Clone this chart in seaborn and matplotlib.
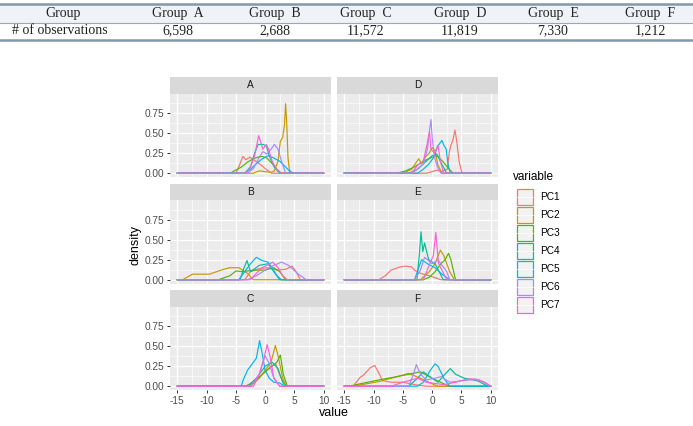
import numpy as np
import pandas as pd
import matplotlib.pyplot as plt
import seaborn as sns
from matplotlib.patches import Rectangle

# table on top
groups = ["A", "B", "C", "D", "E", "F"]
n_obs = ["6,598", "2,688", "11,572", "11,819", "7,330", "1,212"]

pcs = ["PC1", "PC2", "PC3", "PC4", "PC5", "PC6", "PC7"]
colors = ["#F8766D", "#C49A00", "#53B400", "#00C094", "#00B6EB", "#A58AFF", "#FB61D7"]

# density traces: (value, density)
A = {
    "PC1": [(-5.0, 0), (-4.5, 0.08), (-3.8, 0.21), (-3.3, 0.17), (-2.6, 0.2), (-2.0, 0.17), (-1.0, 0.12), (0.0, 0.06), (1.1, 0)],
    "PC2": [(-2.0, 0), (-1.0, 0.03), (0.0, 0.02), (1.0, 0.01), (1.6, 0.03), (2.2, 0.15), (2.6, 0.4), (3.0, 0.45), (3.3, 0.6), (3.5, 0.87), (3.7, 0.6), (3.9, 0.2), (4.2, 0)],
    "PC3": [(-6.0, 0), (-5.0, 0.04), (-4.0, 0.08), (-3.0, 0.14), (-2.0, 0.18), (-1.3, 0.2), (-0.5, 0.21), (0.3, 0.19), (1.2, 0.12), (2.0, 0.05), (2.8, 0)],
    "PC4": [(-3.5, 0), (-2.5, 0.08), (-1.8, 0.25), (-1.2, 0.36), (-0.3, 0.36), (0.2, 0.34), (0.8, 0.2), (1.6, 0.07), (2.5, 0)],
    "PC5": [(-3.5, 0), (-2.5, 0.05), (-1.5, 0.12), (-0.5, 0.18), (0.5, 0.22), (1.5, 0.19), (2.5, 0.15), (3.2, 0.1), (4.0, 0.04), (4.8, 0)],
    "PC6": [(-3.0, 0), (-2.0, 0.06), (-1.0, 0.2), (-0.4, 0.27), (0.3, 0.24), (1.0, 0.3), (1.6, 0.36), (2.2, 0.3), (2.8, 0.15), (3.5, 0)],
    "PC7": [(-3.3, 0), (-2.5, 0.08), (-1.8, 0.22), (-1.1, 0.47), (-0.8, 0.4), (-0.4, 0.3), (0.2, 0.36), (0.6, 0.3), (1.2, 0.15), (2.0, 0.04), (2.8, 0)],
}
B = {
    "PC1": [(-3.5, 0), (-2.5, 0.1), (-1.0, 0.14), (0.5, 0.15), (2.0, 0.12), (3.5, 0.13), (4.6, 0.17), (5.3, 0.1), (6.0, 0)],
    "PC2": [(-14.1, 0), (-12.4, 0.07), (-9.5, 0.07), (-7.5, 0.12), (-6.1, 0.15), (-4.5, 0.15), (-3.0, 0.08), (-2.0, 0)],
    "PC3": [(-8.0, 0), (-6.0, 0.05), (-5.0, 0.11), (-3.8, 0.1), (-2.0, 0.12), (0.0, 0.12), (1.5, 0.15), (2.5, 0.1), (3.5, 0)],
    "PC4": [(-4.3, 0), (-3.6, 0.15), (-3.1, 0.24), (-2.5, 0.1), (-1.0, 0.18), (0.5, 0.2), (1.5, 0.1), (2.5, 0)],
    "PC5": [(-4.5, 0), (-3.5, 0.1), (-2.5, 0.2), (-1.5, 0.28), (-0.5, 0.24), (0.5, 0.22), (1.2, 0.15), (2.0, 0.05), (2.8, 0)],
    "PC6": [(-3.0, 0), (-1.5, 0.05), (0.0, 0.12), (1.5, 0.18), (2.8, 0.22), (4.0, 0.18), (5.5, 0.08), (7.0, 0)],
    "PC7": [(-2.5, 0), (-1.5, 0.08), (-0.5, 0.15), (0.8, 0.2), (1.3, 0.22), (2.2, 0.15), (3.0, 0.05), (3.8, 0)],
}
C = {
    "PC1": [(-3.5, 0), (-2.0, 0.05), (-0.5, 0.15), (1.0, 0.25), (1.8, 0.28), (2.6, 0.12), (3.5, 0)],
    "PC2": [(-2.5, 0), (-1.0, 0.1), (0.0, 0.2), (1.0, 0.3), (1.75, 0.51), (2.3, 0.35), (3.0, 0.1), (3.6, 0)],
    "PC3": [(-3.0, 0), (-1.5, 0.08), (0.0, 0.18), (1.2, 0.25), (2.0, 0.3), (2.6, 0.39), (3.1, 0.15), (3.8, 0)],
    "PC4": [(-3.0, 0), (-1.5, 0.1), (0.0, 0.25), (1.2, 0.3), (2.2, 0.22), (3.0, 0.05), (3.5, 0)],
    "PC5": [(-4.1, 0), (-3.8, 0.07), (-3.0, 0.2), (-2.0, 0.3), (-1.5, 0.35), (-0.95, 0.57), (-0.6, 0.45), (0.0, 0.2), (0.7, 0.1), (1.5, 0.05), (2.5, 0.04), (3.3, 0)],
    "PC6": [(-2.5, 0), (-1.0, 0.15), (0.0, 0.38), (0.6, 0.3), (1.5, 0.1), (2.5, 0)],
    "PC7": [(-2.0, 0), (-1.0, 0.15), (-0.2, 0.35), (0.35, 0.52), (0.9, 0.35), (1.5, 0.1), (2.5, 0)],
}
D = {
    "PC1": [(-1.0, 0), (0.0, 0.02), (0.9, 0.04), (1.6, 0.02), (2.6, 0.05), (2.9, 0.25), (3.2, 0.35), (3.5, 0.4), (3.9, 0.54), (4.2, 0.4), (4.6, 0.15), (5.1, 0)],
    "PC2": [(-5.0, 0), (-3.5, 0.05), (-2.3, 0.18), (-1.8, 0.12), (-1.2, 0.2), (-0.5, 0.25), (0.0, 0.32), (0.5, 0.28), (1.0, 0.1), (1.7, 0)],
    "PC3": [(-6.0, 0), (-4.5, 0.03), (-3.0, 0.08), (-1.5, 0.15), (0.0, 0.2), (0.8, 0.22), (1.8, 0.15), (2.8, 0.06), (3.6, 0)],
    "PC4": [(-4.0, 0), (-2.5, 0.05), (-1.0, 0.15), (0.0, 0.22), (0.8, 0.24), (1.6, 0.12), (2.5, 0)],
    "PC5": [(-2.5, 0), (-1.5, 0.05), (-0.5, 0.12), (0.3, 0.2), (0.9, 0.33), (1.65, 0.41), (2.0, 0.35), (2.4, 0.3), (2.7, 0.12), (3.1, 0)],
    "PC6": [(-3.5, 0), (-2.5, 0.05), (-1.5, 0.12), (-0.8, 0.3), (-0.5, 0.5), (-0.2, 0.67), (0.0, 0.45), (0.4, 0.2), (0.9, 0.08), (1.5, 0)],
    "PC7": [(-3.5, 0), (-2.5, 0.1), (-1.5, 0.15), (-0.9, 0.35), (-0.45, 0.52), (-0.2, 0.3), (0.4, 0.25), (1.0, 0.35), (1.4, 0.15), (2.0, 0)],
}
E = {
    "PC1": [(-9.1, 0), (-8.0, 0.05), (-7.0, 0.12), (-5.5, 0.16), (-4.5, 0.17), (-3.5, 0.16), (-3.0, 0.12), (-2.0, 0.08), (-0.5, 0.05), (1.5, 0)],
    "PC2": [(-2.0, 0), (-0.5, 0.1), (0.5, 0.2), (1.4, 0.37), (2.0, 0.3), (3.0, 0.1), (3.8, 0)],
    "PC3": [(-1.5, 0), (-0.5, 0.03), (0.5, 0.1), (1.5, 0.2), (2.2, 0.25), (2.8, 0.33), (3.2, 0.25), (4.0, 0)],
    "PC4": [(-2.6, 0), (-2.2, 0.3), (-1.9, 0.6), (-1.6, 0.35), (-1.3, 0.46), (-0.6, 0.25), (0.5, 0.2), (1.2, 0.1), (1.9, 0)],
    "PC5": [(-3.0, 0), (-2.3, 0.15), (-1.8, 0.25), (-0.8, 0.2), (0.5, 0.15), (1.5, 0.08), (3.0, 0)],
    "PC6": [(-3.0, 0), (-2.0, 0.12), (-1.3, 0.28), (0.0, 0.2), (1.0, 0.25), (2.5, 0.1), (3.0, 0)],
    "PC7": [(-1.5, 0), (-0.4, 0.2), (0.2, 0.3), (0.63, 0.59), (0.9, 0.35), (1.1, 0.2), (2.5, 0)],
}
F = {
    "PC1": [(-13.4, 0.01), (-12.3, 0.11), (-11.7, 0.14), (-10.6, 0.23), (-9.8, 0.26), (-9.0, 0.15), (-8.5, 0.07), (-7.0, 0.05), (-5.0, 0.05), (-3.0, 0.02), (-1.0, 0)],
    "PC2": [(-14.0, 0), (-12.0, 0.02), (-9.0, 0.06), (-6.0, 0.12), (-4.0, 0.16), (-2.0, 0.1), (0.0, 0.03), (1.0, 0)],
    "PC3": [(-14.0, 0), (-13.0, 0.02), (-9.0, 0.08), (-6.0, 0.12), (-4.0, 0.15), (-2.0, 0.18), (0.0, 0.1), (2.0, 0.03), (3.0, 0)],
    "PC4": [(-4.0, 0), (-2.5, 0.1), (-1.5, 0.18), (0.0, 0.1), (1.0, 0.05), (2.2, 0.15), (3.1, 0.22), (4.0, 0.15), (5.5, 0.1), (7.0, 0.08), (8.0, 0.06), (9.5, 0)],
    "PC5": [(-2.5, 0), (-1.5, 0.05), (-0.3, 0.2), (0.5, 0.28), (1.0, 0.25), (2.0, 0.1), (3.0, 0)],
    "PC6": [(-4.0, 0), (-3.2, 0.15), (-2.7, 0.27), (-2.0, 0.15), (-1.0, 0.08), (0.5, 0.1), (1.5, 0.12), (3.0, 0.05), (6.5, 0.08), (8.0, 0.08), (10.0, 0)],
    "PC7": [(-7.0, 0), (-5.0, 0.05), (-2.5, 0.1), (-1.0, 0.05), (2.0, 0.02), (4.0, 0.05), (6.0, 0.09), (7.5, 0.09), (9.0, 0.05), (10.0, 0)],
}
curves = {"A": A, "B": B, "C": C, "D": D, "E": E, "F": F}

rows = []
for g, d in curves.items():
    for pc in pcs:
        pts = [(-15, 0)] + d[pc] + [(10, 0)]
        for v, dens in pts:
            rows.append((g, pc, v, dens))
df = pd.DataFrame(rows, columns=["group", "variable", "value", "density"])

W, H = 693, 426
fig = plt.figure(figsize=(W / 100, H / 100), dpi=100)
plt.rcParams["font.family"] = ["Liberation Sans", "DejaVu Sans"]

# overlay in pixel coords for table / legend / titles
ov = fig.add_axes([0, 0, 1, 1])
ov.set_xlim(0, W)
ov.set_ylim(H, 0)
ov.axis("off")

# table
ov.add_patch(Rectangle((0, 4), W, 19, color="#EFF2F7", lw=0))
ov.plot([0, W], [3.5, 3.5], color="#8497AD", lw=1.8)
ov.plot([0, W], [22.5, 22.5], color="#9AA8B8", lw=0.8)
ov.plot([0, W], [40, 40], color="#8497AD", lw=1.8)
col_x = [178, 275, 366, 460, 553, 650]
tfont = dict(family="Liberation Serif", fontsize=10, color="#222222", ha="center", va="center")
ov.text(63, 13.5, "Group", **tfont)
ov.text(60, 31, "# of observations", **tfont)
for x, g, n in zip(col_x, groups, n_obs):
    ov.text(x, 13.5, f"Group  {g}", **tfont)
    ov.text(x, 31, n, **tfont)

# facet panels
lefts = [170, 337]
tops = [94, 200.5, 307]
ph, pw = 83, 161
layout = {"A": (0, 0), "B": (1, 0), "C": (2, 0), "D": (0, 1), "E": (1, 1), "F": (2, 1)}
for g in groups:
    r, c = layout[g]
    x0, y0 = lefts[c], tops[r]
    ax = fig.add_axes([x0 / W, 1 - (y0 + ph) / H, pw / W, ph / H])
    ax.set_facecolor("#EBEBEB")
    sub = df[df["group"] == g]
    sns.lineplot(data=sub, x="value", y="density", hue="variable", hue_order=pcs,
                 palette=colors, estimator=None, sort=False, legend=False, lw=0.85, ax=ax)
    ax.set_xlim(-16.25, 11.25)
    ax.set_ylim(-0.047, 0.99)
    ax.set_xticks([-15, -10, -5, 0, 5, 10])
    ax.set_xticks([-12.5, -7.5, -2.5, 2.5, 7.5], minor=True)
    ax.set_yticks([0, 0.25, 0.5, 0.75])
    ax.set_yticks([0.125, 0.375, 0.625, 0.875], minor=True)
    ax.grid(which="major", color="white", lw=0.9)
    ax.grid(which="minor", color="white", lw=0.45)
    ax.set_axisbelow(True)
    for s in ax.spines.values():
        s.set_visible(False)
    ax.tick_params(which="major", length=2.5, width=0.7, color="#333333", labelsize=7.3,
                   labelcolor="#4D4D4D", pad=1.5)
    ax.tick_params(which="minor", length=0)
    ax.set_xlabel("")
    ax.set_ylabel("")
    if c == 0:
        ax.set_yticklabels(["0.00", "0.25", "0.50", "0.75"])
    else:
        ax.tick_params(axis="y", which="major", length=0, labelleft=False)
    if r == 2:
        ax.set_xticklabels(["-15", "-10", "-5", "0", "5", "10"])
    else:
        ax.tick_params(axis="x", which="major", length=0, labelbottom=False)
    # strip
    ov.add_patch(Rectangle((x0, y0 - 17), pw, 17, color="#D9D9D9", lw=0))
    ov.text(x0 + pw / 2, y0 - 8.5, g, fontsize=7.3, color="#1A1A1A", ha="center", va="center")

ov.text(136, 245, "density", rotation=90, fontsize=9, color="black", ha="center", va="center")
ov.text(334, 413, "value", fontsize=9, color="black", ha="center", va="center")

# legend
ov.text(513, 177, "variable", fontsize=8.5, color="black", ha="left", va="center")
for i, (pc, col) in enumerate(zip(pcs, colors)):
    ky = 188.5 + i * 18.07
    ov.add_patch(Rectangle((516.5, ky), 16.5, 16.5, facecolor="#F2F2F2", edgecolor=col, lw=0.9))
    ov.plot([517, 532.5], [ky + 8.25, ky + 8.25], color="white", lw=0.6, alpha=0.8)
    ov.text(540, ky + 8.5, pc, fontsize=7.3, color="black", ha="left", va="center")

ov.set_zorder(-1)
fig.savefig("out.png", dpi=100)
